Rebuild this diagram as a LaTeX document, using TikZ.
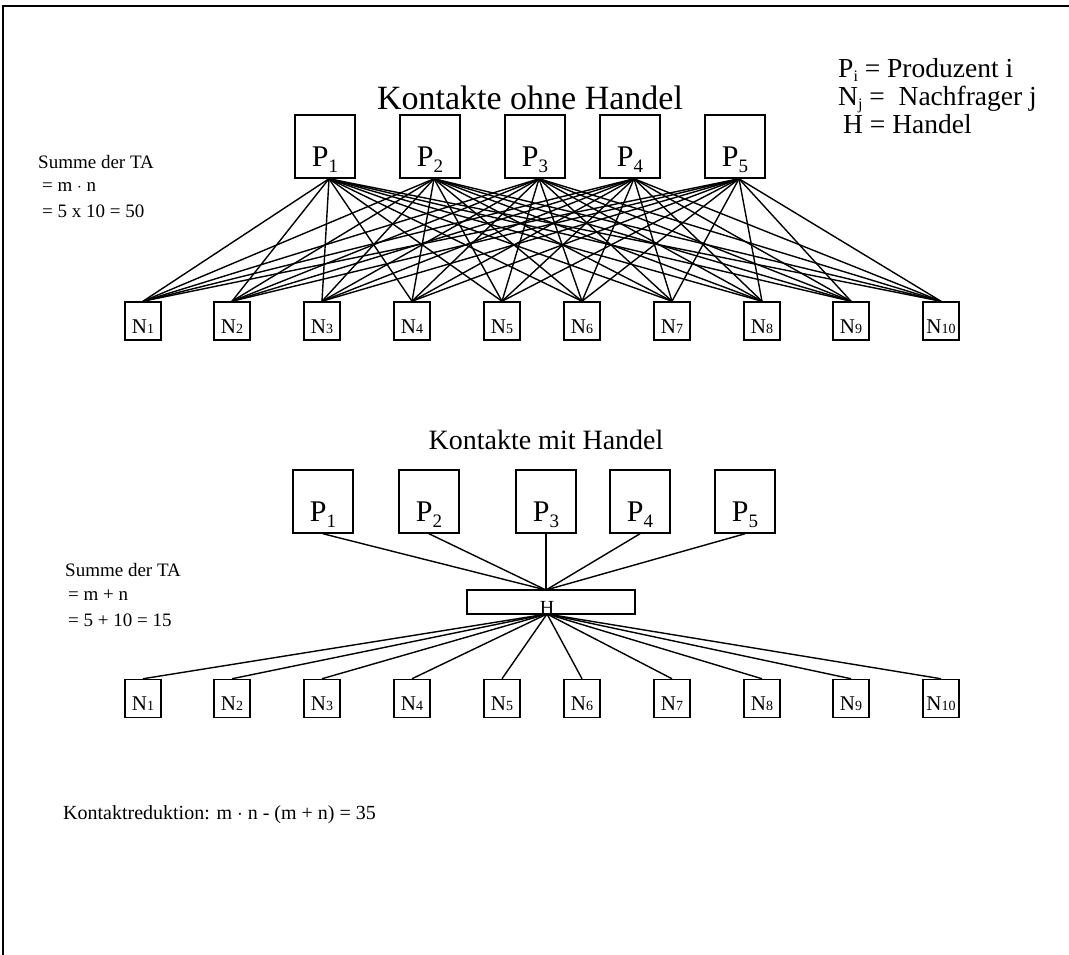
\documentclass[tikz,border=0pt]{standalone}
\usepackage{fontspec}
\setmainfont{Liberation Serif}
\newcommand{\plabel}[1]{\raisebox{-20pt}[0pt][0pt]{P\raisebox{-6pt}{\fontsize{19}{19}\selectfont #1}}}
\newcommand{\nlabel}[1]{\raisebox{-12pt}[0pt][0pt]{N{\fontsize{14}{14}\selectfont #1}}}
\newcommand{\legsub}[1]{\raisebox{-4pt}[0pt][0pt]{\fontsize{16}{16}\selectfont #1}}
\begin{document}
\begin{tikzpicture}[x=1pt,y=-1pt,
  pbox/.style={draw, line width=1.5pt, minimum width=60pt, minimum height=63pt, inner sep=0pt, font=\fontsize{30}{30}\selectfont},
  nbox/.style={draw, line width=1.5pt, minimum width=36pt, minimum height=38pt, inner sep=0pt, font=\fontsize{21}{21}\selectfont},
  hbox/.style={draw, line width=1.5pt, minimum width=168pt, minimum height=24pt, inner sep=0pt},
  link/.style={line width=1.4pt},
  lbl/.style={anchor=west, inner sep=0pt, font=\fontsize{19}{19}\selectfont},
  leg/.style={anchor=base west, inner sep=0pt, font=\fontsize{27.5}{27.5}\selectfont},
  ttl/.style={anchor=base, inner sep=0pt}]
\useasboundingbox (0,0) rectangle (1069,955);
\draw[line width=1.5pt] (3,955) -- (3,6) -- (1069,6);

% legend
\node[leg] (leg1) at (838,78) {P\legsub{i} = Produzent i};
\node[leg] (leg2) at (838,106) {N\legsub{j} =\ \ Nachfrager j};
\node[leg] (leg3) at (843,134) {H = Handel};

% top section
\node[ttl, font=\fontsize{34}{34}\selectfont] (t1) at (530,110) {Kontakte ohne Handel};
\foreach \i/\x in {1/325,2/430,3/535,4/630,5/735}
  \node[pbox] (tp\i) at (\x,146.5) {\plabel{\i}};
\foreach \i/\x in {1/143,2/232,3/322,4/412,5/502,6/582,7/672,8/762,9/851,10/941}
  \node[nbox] (tn\i) at (\x,321) {\nlabel{\i}};
\foreach \i in {1,...,5}
  \foreach \j in {1,...,10}
    \draw[link] ([xshift=4pt]tp\i.south) -- (tn\j.north);

\node[lbl] (s1) at (38,162) {Summe der TA};
\node[lbl] (s2) at (42,187) {= m $\cdot$ n};
\node[lbl] (s3) at (42,211) {= 5 x 10 = 50};

% bottom section
\node[ttl, font=\fontsize{28}{28}\selectfont] (t2) at (546,449) {Kontakte mit Handel};
\foreach \i/\x in {1/323,2/429,3/546,4/640,5/745}
  \node[pbox] (bp\i) at (\x,501.5) {\plabel{\i}};
\node[hbox] (h) at (551,602) {};
\node[anchor=base, inner sep=0pt, font=\fontsize{20}{20}\selectfont] (hl) at (547,614) {H};
\foreach \i/\x in {1/143,2/232,3/322,4/412,5/502,6/582,7/672,8/762,9/851,10/941}
  \node[nbox] (bn\i) at (\x,698.5) {\nlabel{\i}};
\coordinate (htop) at (546,590);
\coordinate (hbot) at (547,614);
\foreach \i in {1,...,5}
  \draw[link] (bp\i.south) -- (htop);
\foreach \j in {1,...,10}
  \draw[link] (hbot) -- (bn\j.north);

\node[lbl] (u1) at (65,570) {Summe der TA};
\node[lbl] (u2) at (68,595) {= m + n};
\node[lbl] (u3) at (68,620) {= 5 + 10 = 15};

\node[lbl, font=\fontsize{20}{20}\selectfont] (k) at (63,815) {Kontaktreduktion: m $\cdot$ n - (m + n) = 35};
\end{tikzpicture}
\end{document}
